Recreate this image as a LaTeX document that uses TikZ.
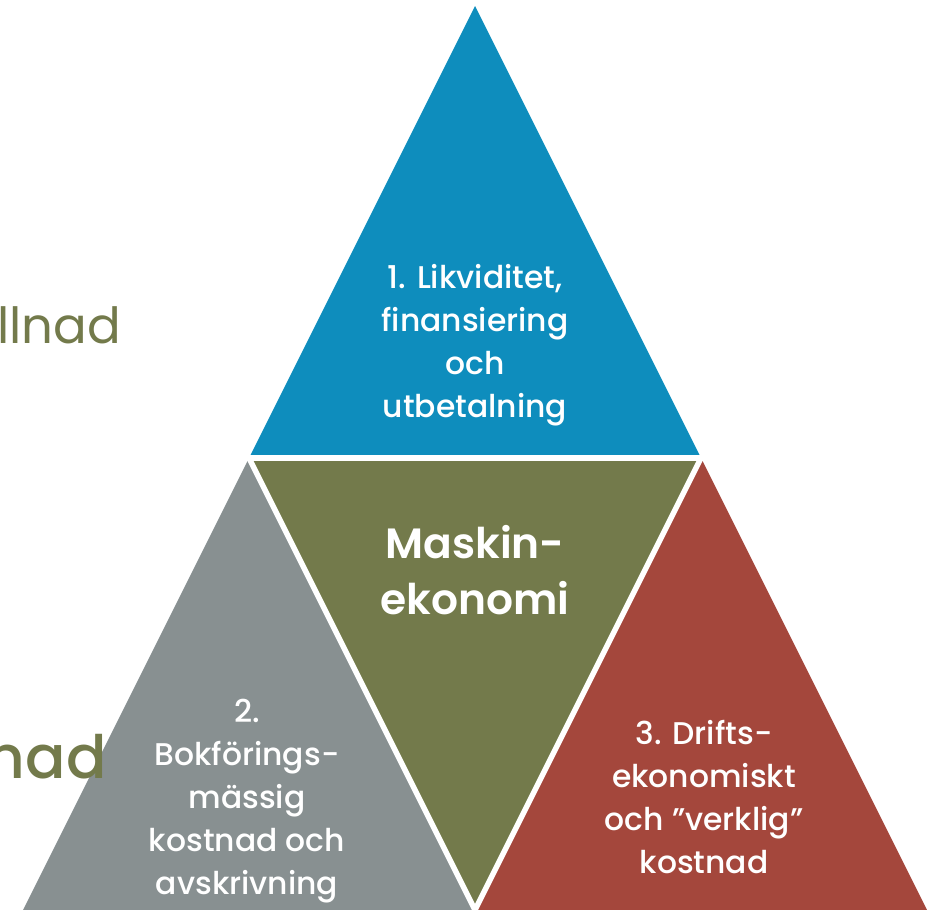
\documentclass[tikz,border=0pt]{standalone}
\usepackage{fontspec}
\usetikzlibrary{calc}
\setmainfont{Poppins}
\newfontfamily\popsemi{Poppins}[UprightFont=* SemiBold]
\newfontfamily\popmed{Poppins}[UprightFont=* Medium]
\definecolor{cblue}{HTML}{0E8DBD}
\definecolor{colive}{HTML}{737A4B}
\definecolor{cgray}{HTML}{889091}
\definecolor{cred}{HTML}{A4473C}
\begin{document}
\begin{tikzpicture}[x=1bp,y=-1bp,
  sep/.style={draw=white,line width=5.5bp,line cap=butt},
  lbl/.style={text=white,align=center,inner sep=0pt,font=\popmed\fontsize{31.5}{43}\selectfont},
  side/.style={text=colive,inner sep=0pt,anchor=base east}]
\useasboundingbox (0,0) rectangle (927,910);
\coordinate (A) at (475,6);
\coordinate (BL) at (23,910);
\coordinate (BR) at (927,910);
\coordinate (ML) at (249,458);
\coordinate (MR) at (701,458);
\coordinate (MB) at (475,910);
\fill[cblue] (A) -- (ML) -- (MR) -- cycle;
\fill[colive] (ML) -- (MR) -- (MB) -- cycle;
\fill[cgray] (ML) -- (BL) -- (MB) -- cycle;
\fill[cred] (MR) -- (MB) -- (BR) -- cycle;
\draw[sep] ($(ML)+(-10,0)$) -- ($(MR)+(10,0)$);
\draw[sep] (ML) -- (MB) -- (MR);
\node[side,font=\fontsize{50}{60}\selectfont] (t1) at (121,343) {llnad};
\node[side,font=\popmed\fontsize{60}{70}\selectfont] (t2) at (107,778) {nad};
\node[lbl] (n1) at (475,345) {1. Likviditet,\\finansiering\\och\\utbetalning};
\node[lbl,font=\popsemi\fontsize{42.5}{57}\selectfont] (n0) at (475,570) {Maskin-\\ekonomi};
\node[lbl,font=\popmed\fontsize{31.5}{43.2}\selectfont] (n2) at (247,801) {2.\\Bokförings-\\mässig\\kostnad och\\avskrivning};
\node[lbl] (n3) at (704,797) {3. Drifts-\\ekonomiskt\\och ”verklig”\\kostnad};
\end{tikzpicture}
\end{document}
